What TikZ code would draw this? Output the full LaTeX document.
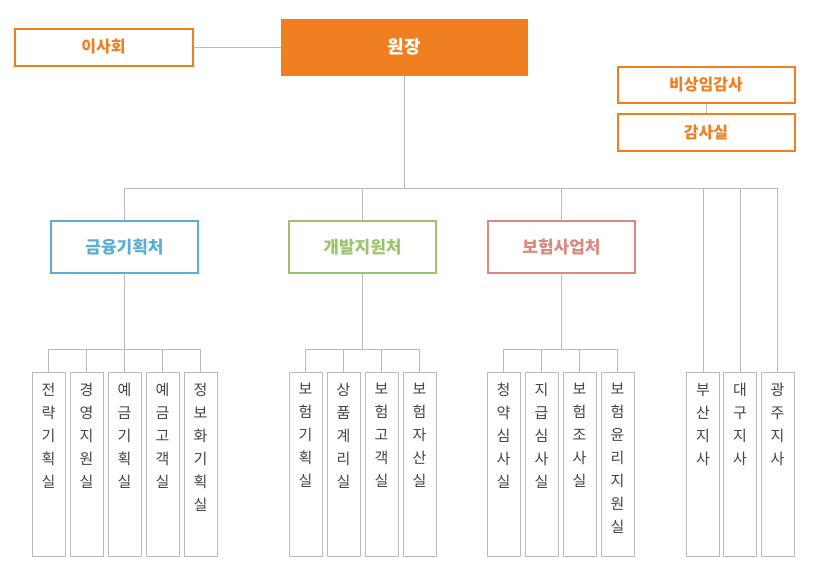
\documentclass[tikz,border=0pt]{standalone}
\usepackage{fontspec}
\setmainfont{Noto Sans CJK KR}
\definecolor{org}{HTML}{F07F22}
\definecolor{bl}{HTML}{5AAED3}
\definecolor{gr}{HTML}{9BC46C}
\definecolor{pk}{HTML}{D98A7E}
\definecolor{ln}{HTML}{BBBBBB}
\definecolor{tx}{HTML}{444444}
\tikzset{
 topbox/.style={draw=org,line width=2pt,text=org,font=\fontsize{16}{19}\selectfont\bfseries},
 dept/.style={line width=2pt,minimum width=147pt,minimum height=52pt,font=\fontsize{17}{20}\selectfont\bfseries},
 unit/.style={draw=ln,line width=0.8pt,minimum width=33pt,minimum height=184pt,anchor=north},
 vtxt/.style={anchor=north,align=center,text=tx,font=\fontsize{15}{23}\selectfont,inner sep=0pt},
 conn/.style={draw=ln,line width=0.8pt}
}
\newcommand{\unitbox}[3]{%
 \node[unit] (#1) at (#2,372) {};
 \node[vtxt] (#1t) at (#2,383) {#3};}
\begin{document}
\begin{tikzpicture}[x=1pt,y=-1pt]
\useasboundingbox (0,0) rectangle (821,579);
\node[fill=org,text=white,minimum width=247pt,minimum height=57pt,font=\fontsize{18}{21}\selectfont\bfseries] (head) at (404.5,47) {원장};
\node[topbox,minimum width=178pt,minimum height=37pt] (board) at (103.5,47) {이사회};
\node[topbox,minimum width=177pt,minimum height=36pt] (aud1) at (706,84.5) {비상임감사};
\node[topbox,minimum width=177pt,minimum height=37pt] (aud2) at (706,132.5) {감사실};
\draw[conn] (board.east) -- (head.west);
\draw[conn] (aud1.south) -- (aud2.north);
\coordinate (hb) at (404.5,188);
\draw[conn] (head.south) -- (hb);
\draw[conn] (125,188) -- (777,188);
\node[dept,draw=bl,text=bl] (d1) at (124.5,247) {금융기획처};
\node[dept,draw=gr,text=gr] (d2) at (362.5,247) {개발지원처};
\node[dept,draw=pk,text=pk] (d3) at (561.5,247) {보험사업처};
\foreach \d in {d1,d2,d3} \draw[conn] (\d.north) -- (\d.north |- hb);
\unitbox{a1}{48.5}{전\\략\\기\\획\\실}
\unitbox{a2}{86.5}{경\\영\\지\\원\\실}
\unitbox{a3}{124.5}{예\\금\\기\\획\\실}
\unitbox{a4}{162.5}{예\\금\\고\\객\\실}
\unitbox{a5}{200.5}{정\\보\\화\\기\\획\\실}
\unitbox{b1}{305.5}{보\\험\\기\\획\\실}
\unitbox{b2}{343.5}{상\\품\\계\\리\\실}
\unitbox{b3}{381.5}{보\\험\\고\\객\\실}
\unitbox{b4}{419.5}{보\\험\\자\\산\\실}
\unitbox{c1}{503.5}{청\\약\\심\\사\\실}
\unitbox{c2}{541.5}{지\\급\\심\\사\\실}
\unitbox{c3}{579.5}{보\\험\\조\\사\\실}
\unitbox{c4}{617.5}{보\\험\\윤\\리\\지\\원\\실}
\unitbox{e1}{703}{부\\산\\지\\사}
\unitbox{e2}{740}{대\\구\\지\\사}
\unitbox{e3}{777.5}{광\\주\\지\\사}
\draw[conn] (d1.south) -- (124.5,349);
\draw[conn] (d2.south) -- (362.5,349);
\draw[conn] (d3.south) -- (561.5,349);
\draw[conn] (a1.north |- 0,349) -- (a5.north |- 0,349);
\draw[conn] (b1.north |- 0,349) -- (b4.north |- 0,349);
\draw[conn] (c1.north |- 0,349) -- (c4.north |- 0,349);
\foreach \u in {a1,a2,a3,a4,a5,b1,b2,b3,b4,c1,c2,c3,c4} \draw[conn] (\u.north) -- (\u.north |- 0,349);
\foreach \u in {e1,e2,e3} \draw[conn] (\u.north) -- (\u.north |- hb);
\end{tikzpicture}
\end{document}
